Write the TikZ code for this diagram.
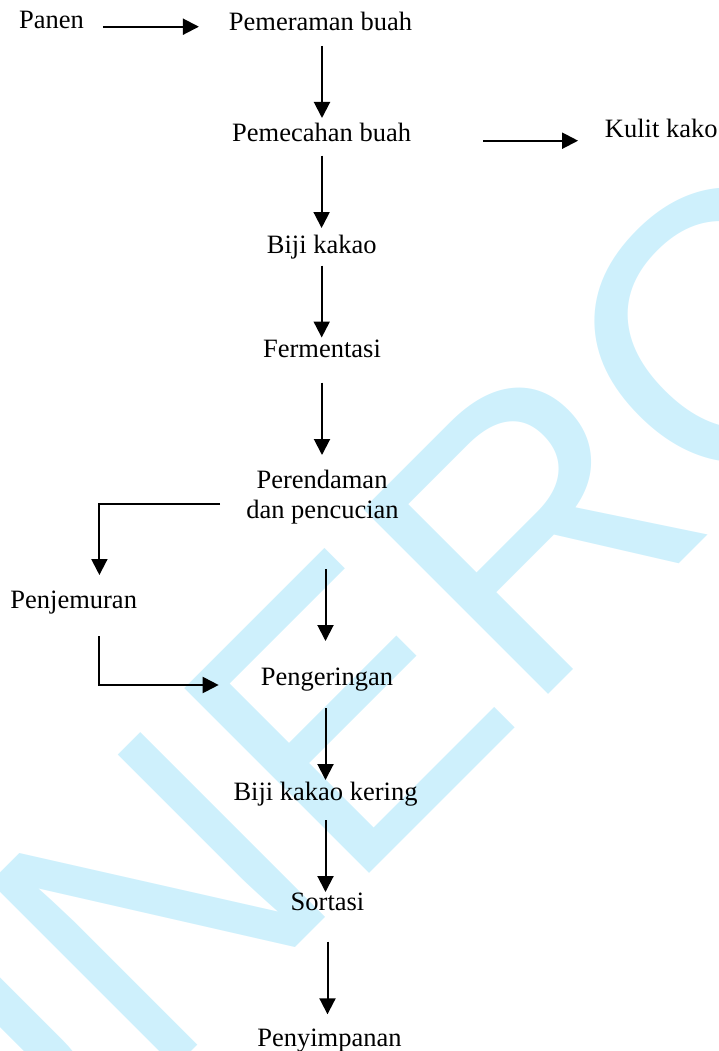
\documentclass[tikz,border=0pt]{standalone}
\usepackage{fontspec}
\setmainfont{Liberation Serif}
\newfontfamily\wmfont{Liberation Sans}
\usetikzlibrary{arrows.meta}
\definecolor{wmcyan}{RGB}{206,240,252}
\begin{document}
\begin{tikzpicture}[x=1pt,y=-1pt,
  txt/.style={font=\fontsize{26.5}{30}\selectfont, inner sep=0pt, outer sep=0pt,
              text height=18pt, text depth=6pt, anchor=base},
  wm/.style={rotate=45, inner sep=0pt, outer sep=0pt, text=wmcyan,
             font=\wmfont\fontsize{380}{380}\selectfont},
  arr/.style={line width=2pt, -{Triangle[length=16pt,width=16pt]}}]
\useasboundingbox (0,0) rectangle (718,1051);
\begin{scope}
\clip (0,0) rectangle (718,1051);
\node[wm, anchor=base west] (wm) at (153.2,1089.9) {NERO};
\node[wm, anchor=base east] (wm0) at (wm.base west) {U};
\end{scope}

\node[txt] (panen) at (51.5,28.3) {Panen};
\node[txt] (pem) at (320.5,31) {Pemeraman buah};
\node[txt] (pec) at (321.6,141.7) {Pemecahan buah};
\node[txt] (kulit) at (661.2,138) {Kulit kako};
\node[txt] (biji) at (321.7,253) {Biji kakao};
\node[txt] (ferm) at (322,357.5) {Fermentasi};
\node[txt] (per1) at (322,488.3) {Perendaman};
\node[txt] (per2) at (322.5,518) {dan pencucian};
\node[txt] (pjm) at (73.7,608.3) {Penjemuran};
\node[txt] (peng) at (327,685) {Pengeringan};
\node[txt] (bk) at (325.5,800) {Biji kakao kering};
\node[txt] (sort) at (327.5,910) {Sortasi};
\node[txt] (peny) at (329.5,1046) {Penyimpanan};

\draw[arr, shorten <=19pt, shorten >=30pt] ([yshift=1.6pt]panen.base east) -- ([yshift=1.6pt]panen.base east -| pem.west);
\draw[arr, shorten <=9pt, shorten >=5.7pt] ([xshift=1.5pt]pem.south) -- ([xshift=1.5pt]pem.south |- pec.north);
\draw[arr, shorten <=72.3pt, shorten >=26.8pt] ([yshift=1pt]pec.base east) -- ([yshift=1pt]pec.base east -| kulit.west);
\draw[arr, shorten <=8pt, shorten >=7pt] (pec.south) -- (pec.south |- biji.north);
\draw[arr, shorten <=6.7pt, shorten >=2pt] (biji.south) -- (biji.south |- ferm.north);
\draw[arr, shorten <=19.2pt, shorten >=15.3pt] (ferm.south) -- (ferm.south |- per1.north);
\draw[arr, shorten <=26.2pt, shorten >=15.3pt] ([yshift=8pt]per2.west) -| ([xshift=25.7pt]pjm.north);
\draw[arr, shorten <=21.7pt, shorten >=42.1pt] ([xshift=25.7pt]pjm.south) |- (peng.base west);
\draw[arr, shorten <=45pt, shorten >=26pt] ([xshift=-1.5pt]per2.south -| peng.north) -- ([xshift=-1.5pt]peng.north);
\draw[arr, shorten <=17.3pt, shorten >=2pt] (peng.south -| bk.north) -- (bk.north);
\draw[arr, shorten <=14pt, shorten >=0pt] (bk.south) -- (bk.south |- sort.north);
\draw[arr, shorten <=25.7pt, shorten >=13.7pt] (sort.south) -- (sort.south |- peny.north);
\end{tikzpicture}
\end{document}
